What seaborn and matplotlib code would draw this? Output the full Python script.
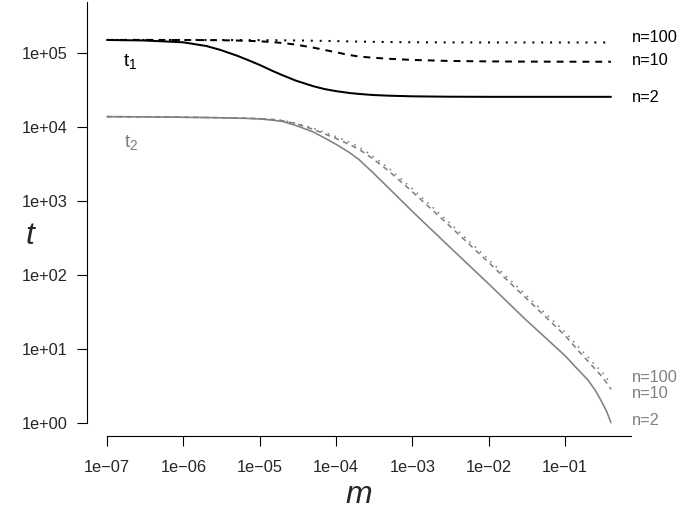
import pandas as pd
import seaborn as sns
import matplotlib.pyplot as plt
from matplotlib.ticker import FixedLocator, FuncFormatter, NullLocator

# migration rates (m) at which the curves were read
m = [1e-7, 3e-7, 1e-6, 2e-6, 3e-6, 5e-6, 7e-6, 1e-5, 1.5e-5, 2e-5,
     3e-5, 5e-5, 7e-5, 1e-4, 1.5e-4, 2e-4, 3e-4, 5e-4, 1e-3, 3e-3,
     1e-2, 3e-2, 0.1, 0.15, 0.2, 0.25, 0.3, 0.35, 0.4]

# t1 (black)
t1_n2 = [148400, 146200, 138000, 123000, 109600, 91400, 79600, 68300, 56200, 49500,
         41800, 35300, 32300, 30200, 28500, 27700, 26800, 26200, 25700, 25400,
         25300, 25300, 25300, 25300, 25300, 25300, 25300, 25300, 25300]
t1_n10 = [148600, 148600, 148200, 147900, 147200, 145900, 144500, 142600, 138700, 135200,
          128200, 117200, 109100, 101200, 92900, 88700, 85500, 82600, 79800, 77300,
          76200, 75700, 75500, 75400, 75400, 75400, 75400, 75400, 75400]
t1_n100 = [148600, 148600, 148500, 148400, 148300, 148100, 147900, 147700, 147300, 147000,
           146300, 145200, 144300, 143300, 142000, 141200, 140200, 139200, 138300, 137600,
           137300, 137200, 137200, 137200, 137200, 137200, 137200, 137200, 137200]

# t2 (grey)
t2_n2 = [13650, 13580, 13400, 13270, 13180, 13030, 12910, 12700, 12220, 11750,
         10350, 8510, 7080, 5780, 4470, 3590, 2430, 1450, 716, 243,
         75, 25.1, 8.04, 5.13, 3.76, 2.72, 1.95, 1.43, 1.0]
t2_n10 = [13650, 13580, 13400, 13300, 13210, 13090, 12970, 12820, 12450, 12020,
          10960, 9230, 8040, 6920, 5750, 4950, 3720, 2480, 1320, 468,
          146, 49.5, 15.1, 9.33, 6.76, 5.25, 4.27, 3.47, 2.82]
t2_n100 = [13650, 13580, 13400, 13300, 13220, 13100, 12990, 12850, 12500, 12130,
           11170, 9550, 8410, 7330, 6170, 5310, 4030, 2690, 1450, 513,
           160, 54.3, 16.8, 10.5, 7.67, 5.96, 4.90, 4.03, 3.31]

n_labels = ['n=2', 'n=10', 'n=100']

sns.set_style('ticks')
plt.rcParams['font.family'] = ['Liberation Sans', 'DejaVu Sans']

fig = plt.figure(figsize=(6.8, 5.11), dpi=100)
ax = fig.add_axes([0.1275, 0.1468, 0.8005, 0.8493])

black = '#000000'
grey = '#808080'

series = [
    (t1_n2, black, 1.45, None),
    (t1_n10, black, 1.45, (3.4, 3.0)),
    (t1_n100, black, 1.45, (1.0, 3.4)),
    (t2_n2, grey, 1.15, None),
    (t2_n10, grey, 1.15, (3.3, 2.7)),
    (t2_n100, grey, 1.15, (1.0, 3.5)),
]

for vals, col, lw, dash in series:
    d = pd.DataFrame({'m': m, 't': vals})
    sns.lineplot(data=d, x='m', y='t', ax=ax, color=col, linewidth=lw,
                 errorbar=None, sort=False)
    if dash is not None:
        ax.lines[-1].set_dashes(dash)

ax.set_xscale('log')
ax.set_yscale('log')
ax.set_xlim(5.42e-8, 0.733)
ax.set_ylim(0.66, 4.84e5)

fmt = FuncFormatter(lambda v, p: f'{v:.0e}'.replace('-', '\u2212'))
ax.xaxis.set_major_locator(FixedLocator([1e-7, 1e-6, 1e-5, 1e-4, 1e-3, 1e-2, 1e-1]))
ax.yaxis.set_major_locator(FixedLocator([1, 10, 100, 1e3, 1e4, 1e5]))
ax.xaxis.set_minor_locator(NullLocator())
ax.yaxis.set_minor_locator(NullLocator())
ax.xaxis.set_major_formatter(fmt)
ax.yaxis.set_major_formatter(fmt)
ax.tick_params(axis='both', length=7.5, width=0.8, labelsize=11.8, color='black')
ax.tick_params(axis='x', pad=10)
ax.tick_params(axis='y', pad=6)

sns.despine(ax=ax)
ax.spines['left'].set_bounds(1, 4.84e5)
ax.spines['bottom'].set_bounds(1e-7, 0.733)
for s in ['left', 'bottom']:
    ax.spines[s].set_linewidth(0.8)
    ax.spines[s].set_color('black')

ax.set_xlabel('m', fontsize=23, fontstyle='italic', va='center')
ax.set_ylabel('t', fontsize=23, fontstyle='italic', rotation=0,
              va='center', ha='center')
ax.xaxis.set_label_coords(0.5, -0.136)
ax.yaxis.set_label_coords(-0.105, 0.46)

ax.text(1.6e-7, 10**4.874, r'$\mathregular{t_1}$', fontsize=14, color=black,
        ha='left', va='center')
ax.text(1.65e-7, 10**3.78, r'$\mathregular{t_2}$', fontsize=14, color=grey,
        ha='left', va='center')

tr = ax.get_yaxis_transform()
for lab, yv in zip(n_labels, [10**4.388, 10**4.888, 10**5.2]):
    ax.text(1.002, yv, lab, transform=tr, fontsize=11.8, color=black,
            ha='left', va='center', clip_on=False)
for lab, yv in zip(n_labels, [10**0.023, 10**0.40, 10**0.605]):
    ax.text(1.002, yv, lab, transform=tr, fontsize=11.8, color=grey,
            ha='left', va='center', clip_on=False)

fig.savefig('out.png', dpi=100)
